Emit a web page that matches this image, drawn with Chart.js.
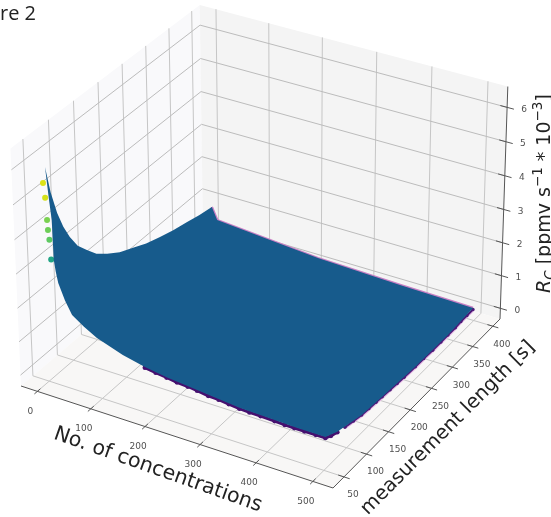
<!DOCTYPE html>
<html>
<head>
<meta charset="utf-8">
<style>html,body{margin:0;padding:0;background:#fff}canvas{display:block}</style>
<script src="https://cdn.jsdelivr.net/npm/chart.js@4"></script>
</head>
<body>
<canvas id="c" width="551" height="517"></canvas>
<script>
// ── axis ticks and limits ────────────────────────────────
const concTicks = [0, 100, 200, 300, 400, 500];
const lengthTicks = [50, 100, 150, 200, 250, 300, 350, 400];
const rateTicks = [0, 1, 2, 3, 4, 5, 6];
const concLim = [-31, 535];
const lengthLim = [26, 418];
const rateLim = [-0.33, 6.6];

// ── surface outline (conc, length, rate) ──
const edgeConc = [1, 1, 1, 1, 1, 1, 1, 1, 1, 1, 1, 1, 1, 1, 1, 1, 1, 13, 125, 208, 363, 498, 499, 498, 494, 491, 481, 472, 417, 381, 316, 233, 175, 135, 94, 46, 22, 1, 1, 1, 1, 1, 1, 1, 1];
const edgeLength = [57, 66, 77, 88, 100, 115, 133, 152, 174, 200, 228, 256, 286, 315, 346, 373, 402, 400, 400, 400, 400, 400, 337, 260, 188, 145, 103, 88, 88, 89, 91, 98, 100, 100, 100, 100, 100, 99, 86, 74, 70, 67, 66, 62, 57];
const edgeRate = [5.88, 5.05, 4.33, 3.8, 3.36, 2.93, 2.59, 2.25, 1.99, 1.73, 1.53, 1.33, 1.18, 1.05, 0.94, 0.84, 0.76, 0.43, 0.28, 0.17, 0.09, 0.05, 0, 0, 0, 0, 0, 0, 0, 0, 0, 0, 0.06, 0.16, 0.31, 0.58, 0.8, 1.06, 1.65, 2.32, 2.7, 3.08, 4.25, 4.92, 5.88];
const backStart = 16, backEnd = 22; // slice of the outline along the far edge

// ── low-value scatter showing past the front and right edges ──
const frontConc = [135, 155, 175, 195, 215, 233, 255, 275, 295, 316, 335, 355, 381, 400, 417, 435, 455, 472, 477, 481];
const frontLength = [100, 100, 100, 99, 99, 98, 96, 95, 93, 91, 90, 90, 89, 88, 88, 88, 88, 88, 94, 103];
const frontRate = [0.14, 0.09, 0.05, 0.02, 0, -0.02, -0.03, -0.03, -0.03, -0.03, -0.03, -0.03, -0.03, -0.03, -0.03, -0.03, -0.03, -0.03, -0.02, -0.01];
const rightConc = [485, 488, 491, 492, 493, 494, 495, 496, 497, 498, 498, 499, 499, 499, 499, 498, 498, 498];
const rightLength = [115, 130, 145, 160, 175, 188, 205, 220, 235, 260, 280, 300, 320, 337, 355, 370, 385, 400];

// ── high-value scatter to the left of the ridge ──────────
const highLength = [52, 55, 57, 58, 60, 62];
const highRate = [5.48, 5.02, 4.36, 4.06, 3.75, 3.15];
const highColors = ['#dde318', '#d4e21a', '#7ad151', '#6ece58', '#5ec962', '#21a585'];

// ── 3D view ──────────────────────────────────────────────
const elev = 30 * Math.PI / 180, azim = -60 * Math.PI / 180, dist = 10, boxZ = 0.75;
function eyeCoords(n, L, z) {
  const X = (n - concLim[0]) / (concLim[1] - concLim[0]) - 0.5;
  const Y = (L - lengthLim[0]) / (lengthLim[1] - lengthLim[0]) - 0.5;
  const Z = ((z - rateLim[0]) / (rateLim[1] - rateLim[0]) - 0.5) * boxZ;
  const ex = Math.cos(azim) * Math.cos(elev), ey = Math.sin(azim) * Math.cos(elev), ez = Math.sin(elev);
  const ux = -ey, uy = ex, ul = Math.hypot(ux, uy);
  const right = [ux / ul, uy / ul, 0];
  const up = [ey * right[2] - ez * right[1], ez * right[0] - ex * right[2], ex * right[1] - ey * right[0]];
  const px = X - dist * ex, py = Y - dist * ey, pz = Z - dist * ez;
  const w = -(px * ex + py * ey + pz * ez);
  return [(right[0] * px + right[1] * py) / w, (up[0] * px + up[1] * py + up[2] * pz) / w];
}
// screen fit from three floor corners of the box
function fitAffine(src, dst) {
  const [a, b, c] = src;
  const d = (a[0] - c[0]) * (b[1] - c[1]) - (b[0] - c[0]) * (a[1] - c[1]);
  const solve = i => {
    const p = ((dst[0][i] - dst[2][i]) * (b[1] - c[1]) - (dst[1][i] - dst[2][i]) * (a[1] - c[1])) / d;
    const q = ((a[0] - c[0]) * (dst[1][i] - dst[2][i]) - (b[0] - c[0]) * (dst[0][i] - dst[2][i])) / d;
    return [p, q, dst[2][i] - p * c[0] - q * c[1]];
  };
  return [solve(0), solve(1)];
}
const fit = fitAffine(
  [eyeCoords(concLim[0], lengthLim[0], rateLim[0]), eyeCoords(concLim[1], lengthLim[0], rateLim[0]), eyeCoords(concLim[1], lengthLim[1], rateLim[0])],
  [[21, 386], [333, 488], [500, 319]]
);
function project(n, L, z) {
  const [u, v] = eyeCoords(n, L, z);
  return { x: fit[0][0] * u + fit[0][1] * v + fit[0][2], y: fit[1][0] * u + fit[1][1] * v + fit[1][2] };
}

// ── datasets, listed in paint order ──────────────────────
const [n0, n1] = concLim, [l0, l1] = lengthLim, [z0, z1] = rateLim;
const layers = [];
function pane(color, pts) {
  layers.push({ data: pts.concat([pts[0]]).map(p => project(...p)), showLine: true, borderWidth: 0, pointRadius: 0, backgroundColor: color, fill: 'shape' });
}
function line(pts, color, width) {
  layers.push({ data: pts.map(p => project(...p)), showLine: true, borderColor: color, borderWidth: width, pointRadius: 0, fill: false });
}
function dots(pts, color, radius) {
  layers.push({ data: pts.map(p => project(...p)), showLine: false, pointRadius: radius, pointBorderWidth: 0, pointBackgroundColor: color, fill: false });
}
pane('#f9f9fb', [[n0, l0, z0], [n0, l1, z0], [n0, l1, z1], [n0, l0, z1]]);
pane('#f4f4f4', [[n0, l1, z0], [n1, l1, z0], [n1, l1, z1], [n0, l1, z1]]);
pane('#f8f7f6', [[n0, l0, z0], [n1, l0, z0], [n1, l1, z0], [n0, l1, z0]]);
concTicks.forEach(t => line([[t, l0, z0], [t, l1, z0], [t, l1, z1]], '#c6c6c6', 1));
lengthTicks.forEach(t => line([[n0, t, z1], [n0, t, z0], [n1, t, z0]], '#c6c6c6', 1));
rateTicks.forEach(t => line([[n0, l0, t], [n0, l1, t], [n1, l1, t]], '#bcbcbc', 1));
line([[n0, l0, z0], [n1, l0, z0]], '#555', 1);
line([[n1, l0, z0], [n1, l1, z0]], '#555', 1);
line([[n1, l1, z0], [n1, l1, z1]], '#555', 1);
concTicks.forEach(t => line([[t, l0 - 6, z0], [t, l0 + 6, z0]], '#555', 1));
lengthTicks.forEach(t => line([[n1 - 10, t, z0], [n1 + 10, t, z0]], '#555', 1));
rateTicks.forEach(t => line([[n1 - 12, l1, t], [n1 + 12, l1, t]], '#555', 1));

// scatter first, the surface covers most of it
const edgePts = edgeConc.map((n, i) => [n, edgeLength[i], edgeRate[i]]);
const frontPts = frontConc.map((n, i) => [n, frontLength[i], frontRate[i]]);
const rightPts = rightConc.map((n, i) => [n, rightLength[i], 0]);
line(edgePts.slice(backStart, backEnd), '#c77fc4', 2.5);
line(rightConc.map((n, i) => [n + 2, rightLength[i], 0]), '#e3b7e3', 2);
line(frontPts, '#45106f', 3);
line(rightPts, '#4a1a78', 2);
dots(frontPts, '#45106f', 2.4);
dots(rightPts, '#4a1a78', 1.7);
highLength.forEach((L, i) => dots([[1, L, highRate[i]]], highColors[i], 3));
layers.push({ data: edgePts.map(p => project(...p)), showLine: true, borderWidth: 0, pointRadius: 0, backgroundColor: '#175b8c', fill: 'shape' });

// ── text ─────────────────────────────────────────────────
function rotated(ctx, s, x, y, deg) {
  ctx.save();
  ctx.translate(x, y);
  ctx.rotate(deg * Math.PI / 180);
  ctx.fillText(s, 0, 0);
  ctx.restore();
}
// R_C label with its sub and superscripts, laid along the rotated baseline
const rateLabelParts = [
  ['R', 'italic 19px', 0], ['C', 'italic 13.5px', 4], [' [ppmv s', '19px', 0], ['\u22121', '13.5px', -8],
  [' * 10', '19px', 0], ['\u22123', '13.5px', -8], [']', '19px', 0]
];
function drawRateLabel(ctx, x, y) {
  ctx.save();
  ctx.translate(x, y);
  ctx.rotate(-Math.PI / 2);
  ctx.textAlign = 'left';
  ctx.textBaseline = 'alphabetic';
  let pos = 0;
  rateLabelParts.forEach(([s, font, shift]) => {
    ctx.font = font + ' "DejaVu Sans"';
    ctx.fillText(s, pos, shift);
    pos += ctx.measureText(s).width;
  });
  ctx.restore();
}
const textPlugin = {
  id: 'axisText',
  afterDatasetsDraw(chart) {
    const ctx = chart.ctx;
    ctx.save();
    ctx.fillStyle = '#505050';
    ctx.textAlign = 'center';
    ctx.textBaseline = 'middle';
    ctx.font = '9px "DejaVu Sans"';
    concTicks.forEach(t => { const p = project(t, l0, z0); ctx.fillText(t, p.x - 7, p.y + 20); });
    lengthTicks.forEach(t => { const p = project(n1, t, z0); ctx.fillText(t, p.x + 9, p.y + 18); });
    rateTicks.forEach(t => { const p = project(n1, l1, t); ctx.fillText(t, p.x + 17, p.y + 2); });
    ctx.fillStyle = '#222';
    ctx.font = '20.5px "DejaVu Sans"';
    rotated(ctx, 'No. of concentrations', 158, 470, 19.5);
    ctx.font = '19.6px "DejaVu Sans"';
    rotated(ctx, 'measurement length [s]', 448, 428, -45);
    drawRateLabel(ctx, 550, 293);
    ctx.textAlign = 'right';
    ctx.font = '20px "Open Sans"';
    ctx.fillText('Figure 2', 36, 14);
    ctx.restore();
  }
};

new Chart(document.getElementById('c'), {
  type: 'scatter',
  data: { datasets: layers.slice().reverse() },
  options: {
    responsive: false,
    animation: false,
    layout: { padding: 0, autoPadding: false },
    plugins: { legend: { display: false }, tooltip: { enabled: false } },
    scales: {
      x: { type: 'linear', min: 0, max: 551, display: false },
      y: { type: 'linear', min: 0, max: 517, reverse: true, display: false }
    }
  },
  plugins: [textPlugin]
});
</script>
</body>
</html>
